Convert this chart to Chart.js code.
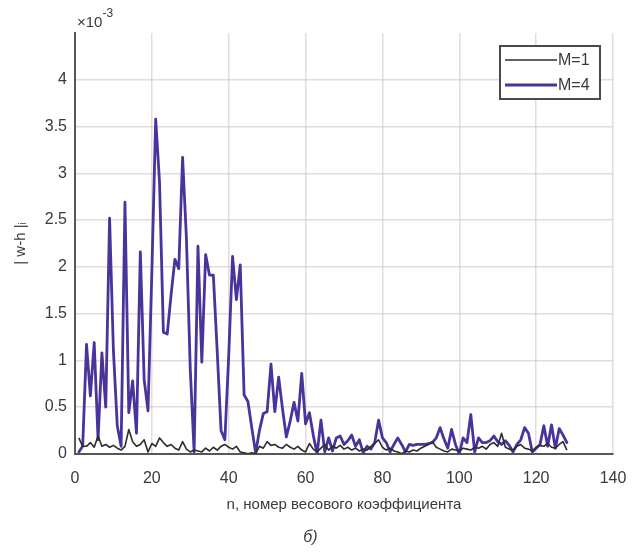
<!DOCTYPE html>
<html>
<head>
<meta charset="utf-8">
<script src="https://cdn.jsdelivr.net/npm/chart.js@4/dist/chart.umd.min.js"></script>
<style>
    html, body { margin: 0; padding: 0; background: #fff; }
    #wrap { width: 642px; height: 555px; }
</style>
</head>
<body>
<div id="wrap"><canvas id="errChart" width="642" height="555"></canvas></div>
<script>
// |w-h|, values in units of 1e-3, for weight index n = 1..128
const seriesNames = ['M=1', 'M=4'];

const errM1 = [
    0.17, 0.08, 0.08, 0.12, 0.07, 0.19, 0.08, 0.10, 0.07, 0.09,
    0.06, 0.04, 0.08, 0.26, 0.13, 0.08, 0.10, 0.15, 0.02, 0.11,
    0.08, 0.17, 0.12, 0.08, 0.10, 0.06, 0.04, 0.13, 0.05, 0.02,
    0.04, 0.03, 0.02, 0.06, 0.03, 0.07, 0.04, 0.08, 0.10, 0.07,
    0.05, 0.08, 0.02, 0.01, 0.00, 0.01, 0.00, 0.08, 0.06, 0.13,
    0.09, 0.10, 0.07, 0.06, 0.10, 0.07, 0.05, 0.08, 0.04, 0.02,
    0.11, 0.05, 0.02, 0.06, 0.10, 0.04, 0.08, 0.06, 0.09, 0.05,
    0.07, 0.04, 0.06, 0.03, 0.05, 0.04, 0.08, 0.11, 0.15, 0.07,
    0.04, 0.06, 0.03, 0.02, 0.00, 0.03, 0.02, 0.04, 0.03, 0.06,
    0.08, 0.10, 0.13, 0.07, 0.05, 0.03, 0.02, 0.05, 0.04, 0.03,
    0.06, 0.05, 0.04, 0.07, 0.06, 0.08, 0.05, 0.10, 0.12, 0.08,
    0.22, 0.07, 0.05, 0.04, 0.08, 0.10, 0.06, 0.05, 0.03, 0.07,
    0.09, 0.08, 0.11, 0.07, 0.06, 0.10, 0.13, 0.04
];

const errM4 = [
    0.02, 0.08, 1.17, 0.62, 1.19, 0.15, 1.08, 0.50, 2.52, 1.10,
    0.30, 0.08, 2.69, 0.44, 0.78, 0.22, 2.16, 0.79, 0.46, 1.95,
    3.58, 2.90, 1.30, 1.28, 1.70, 2.08, 1.98, 3.17, 2.30, 0.90,
    0.02, 2.22, 0.98, 2.13, 1.91, 1.91, 1.10, 0.25, 0.15, 1.05,
    2.11, 1.65, 2.02, 0.63, 0.56, 0.28, 0.01, 0.25, 0.43, 0.45,
    0.96, 0.45, 0.82, 0.48, 0.18, 0.35, 0.55, 0.35, 0.86, 0.32,
    0.44, 0.20, 0.00, 0.36, 0.02, 0.17, 0.03, 0.17, 0.19, 0.10,
    0.14, 0.20, 0.08, 0.15, 0.01, 0.08, 0.05, 0.12, 0.36, 0.17,
    0.12, 0.02, 0.10, 0.17, 0.10, 0.02, 0.10, 0.09, 0.10, 0.10,
    0.10, 0.11, 0.12, 0.17, 0.28, 0.16, 0.06, 0.26, 0.10, 0.00,
    0.17, 0.12, 0.42, 0.02, 0.17, 0.12, 0.12, 0.14, 0.19, 0.13,
    0.10, 0.14, 0.09, 0.02, 0.10, 0.15, 0.28, 0.22, 0.02, 0.06,
    0.10, 0.30, 0.08, 0.31, 0.06, 0.27, 0.20, 0.12
];

// weight coefficient index
const nIndex = Array.from({ length: errM4.length }, (_, i) => i + 1);

const xTicks = [0, 20, 40, 60, 80, 100, 120, 140];
const yTicks = [0, 0.5, 1, 1.5, 2, 2.5, 3, 3.5, 4];
const yMax = 4.5;

const gridColor = 'rgba(205, 190, 190, 0.55)';
const axisColor = '#5a5656';
const textColor = '#3a3a3a';
const fontFamily = '"Liberation Sans", Arial, sans-serif';

// draws the x10^-3 multiplier and the boxed legend inside the plot
const extrasPlugin = {
    id: 'extras',
    afterDraw(chart) {
        const ctx = chart.ctx;
        const area = chart.chartArea;
        ctx.save();

        // multiplier
        ctx.fillStyle = textColor;
        ctx.textBaseline = 'alphabetic';
        ctx.font = '15px ' + fontFamily;
        ctx.fillText('\u00d710', area.left + 2, area.top - 6);
        const w = ctx.measureText('\u00d710').width;
        ctx.font = '12px ' + fontFamily;
        ctx.fillText('-3', area.left + 2 + w, area.top - 16);

        // legend box
        const bx = 500, by = 46, bw = 100, bh = 53;
        ctx.fillStyle = '#fff';
        ctx.fillRect(bx, by, bw, bh);
        ctx.strokeStyle = '#4a4a4a';
        ctx.lineWidth = 2;
        ctx.strokeRect(bx, by, bw, bh);

        chart.data.datasets.forEach((ds, i) => {
            const ly = by + 14 + i * 25;
            ctx.strokeStyle = ds.borderColor;
            ctx.lineWidth = ds.borderWidth;
            ctx.beginPath();
            ctx.moveTo(bx + 5, ly);
            ctx.lineTo(bx + 57, ly);
            ctx.stroke();
            ctx.fillStyle = textColor;
            ctx.font = '16px ' + fontFamily;
            ctx.textBaseline = 'middle';
            ctx.fillText(ds.label, bx + 58, ly + 1);
        });
        ctx.restore();
    }
};

const ctx = document.getElementById('errChart').getContext('2d');

new Chart(ctx, {
    type: 'line',
    data: {
        datasets: [
            {
                label: seriesNames[0],
                data: nIndex.map((n, i) => ({ x: n, y: errM1[i] })),
                borderColor: '#2e2c2c',
                borderWidth: 1.6,
                borderJoinStyle: 'round',
                pointRadius: 0,
                tension: 0
            },
            {
                label: seriesNames[1],
                data: nIndex.map((n, i) => ({ x: n, y: errM4[i] })),
                borderColor: '#48349b',
                borderWidth: 2.8,
                borderJoinStyle: 'round',
                borderCapStyle: 'round',
                pointRadius: 0,
                tension: 0
            }
        ]
    },
    options: {
        responsive: false,
        animation: false,
        layout: {
            padding: { left: 8, right: 29, top: 33, bottom: 0 }
        },
        plugins: {
            legend: { display: false },
            tooltip: { enabled: false },
            title: {
                display: true,
                position: 'bottom',
                text: 'б)',
                color: textColor,
                font: { family: fontFamily, size: 16, style: 'italic', weight: 'normal' },
                padding: { top: 4, bottom: 8 }
            }
        },
        scales: {
            x: {
                type: 'linear',
                min: 0,
                max: 140,
                afterBuildTicks: scale => { scale.ticks = xTicks.map(v => ({ value: v })); },
                afterFit: scale => { scale.height = 70; },
                grid: { color: gridColor, lineWidth: 1.5, drawTicks: false },
                border: { color: axisColor, width: 2 },
                ticks: {
                    color: textColor,
                    padding: 15,
                    maxRotation: 0,
                    font: { family: fontFamily, size: 16 }
                },
                title: {
                    display: true,
                    text: 'n, номер весового коэффициента',
                    color: textColor,
                    font: { family: fontFamily, size: 15 },
                    padding: { top: 0, bottom: 10 }
                }
            },
            y: {
                min: 0,
                max: yMax,
                afterBuildTicks: scale => { scale.ticks = yTicks.concat([yMax]).map(v => ({ value: v })); },
                afterFit: scale => { scale.width = 67; },
                grid: {
                    color: c => (c.tick && c.tick.value === yMax ? 'rgba(0,0,0,0)' : gridColor),
                    lineWidth: 1.5,
                    drawTicks: false
                },
                border: { color: axisColor, width: 2 },
                ticks: {
                    color: textColor,
                    padding: 8,
                    font: { family: fontFamily, size: 16 },
                    callback: v => (v === yMax ? '' : String(v))
                },
                title: {
                    display: true,
                    text: '| w-h |ᵢ',
                    color: textColor,
                    font: { family: fontFamily, size: 15 },
                    padding: { top: 4, bottom: 0 }
                }
            }
        }
    },
    plugins: [extrasPlugin]
});
</script>
</body>
</html>
